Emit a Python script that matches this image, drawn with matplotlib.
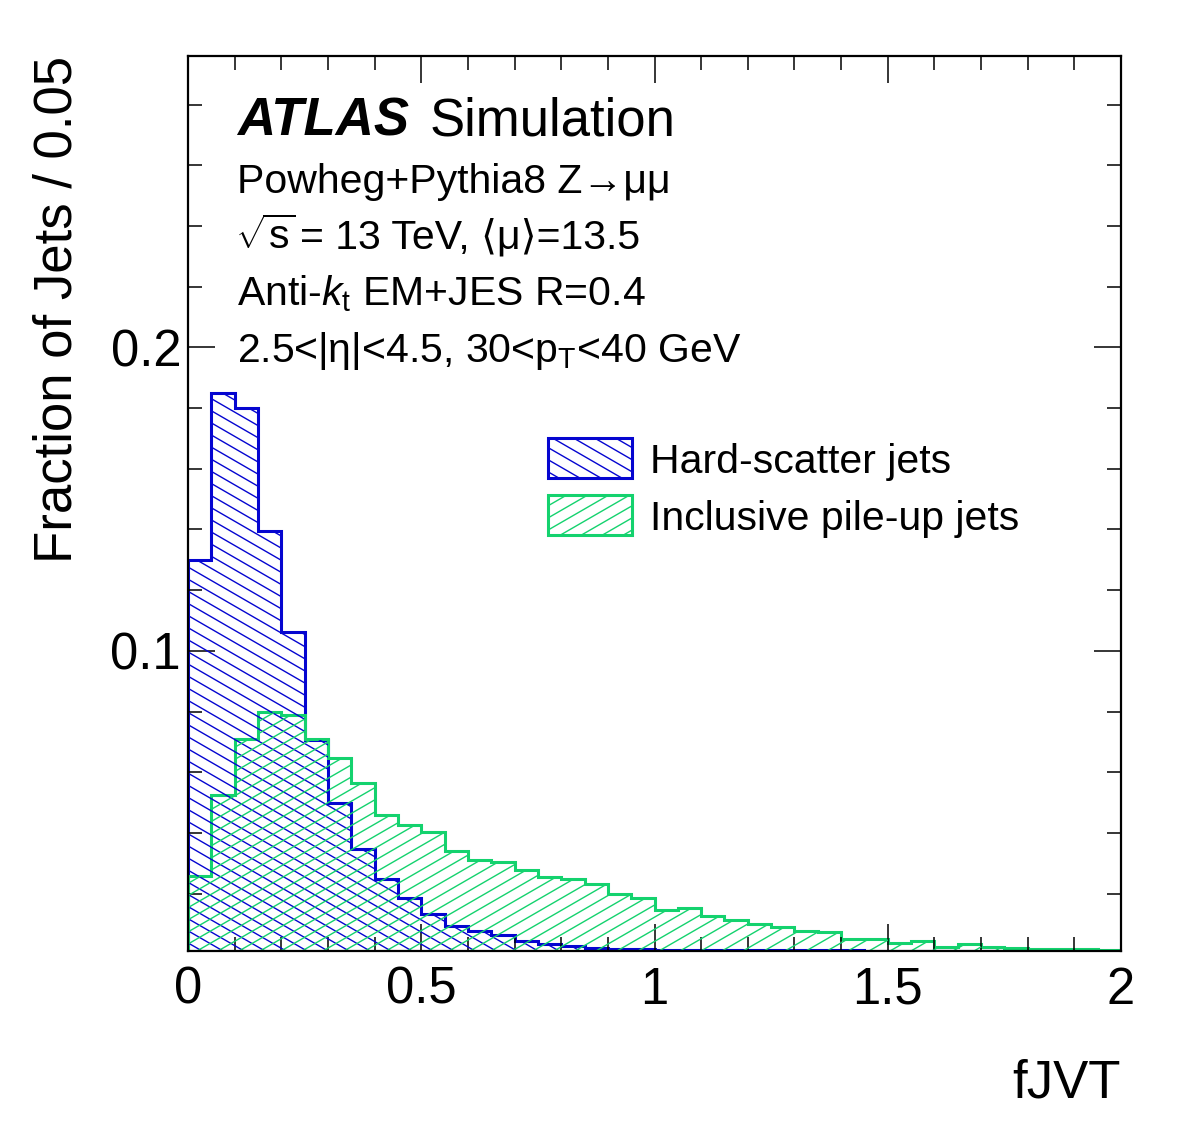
import numpy as np
import matplotlib
matplotlib.use("Agg")
import matplotlib.pyplot as plt
from matplotlib.collections import LineCollection
from matplotlib.patches import Rectangle

# ---------------- data ----------------
bin_edges = np.linspace(0.0, 2.0, 41)
hard_scatter = [0.1300, 0.1850, 0.1800, 0.1396, 0.1063, 0.0706, 0.0498, 0.0347,
                0.0248, 0.0185, 0.0132, 0.0093, 0.0078, 0.0063, 0.0044, 0.0033,
                0.0027, 0.0022, 0.0018, 0.0016, 0.0015, 0.0015, 0.0014, 0.0014,
                0.0013, 0.0013, 0.0013, 0.0013, 0.0013, 0.0012, 0.0012, 0.0012,
                0.0012, 0.0012, 0.0012, 0.0012, 0.0012, 0.0012, 0.0012, 0.0012]
pileup = [0.0257, 0.0525, 0.0709, 0.0797, 0.0790, 0.0710, 0.0648, 0.0565,
          0.0460, 0.0426, 0.0404, 0.0340, 0.0312, 0.0305, 0.0277, 0.0255,
          0.0248, 0.0233, 0.0198, 0.0187, 0.0147, 0.0154, 0.0125, 0.0112,
          0.0099, 0.0090, 0.0076, 0.0075, 0.0050, 0.0050, 0.0039, 0.0043,
          0.0024, 0.0033, 0.0024, 0.0020, 0.0018, 0.0016, 0.0017, 0.0015]
series_labels = ["Hard-scatter jets", "Inclusive pile-up jets"]
x_ticks = [0, 0.5, 1, 1.5, 2]
x_ticklabels = ["0", "0.5", "1", "1.5", "2"]
y_ticks = [0.1, 0.2]
y_ticklabels = ["0.1", "0.2"]

BLUE = "#0505d0"
GREEN = "#14d26e"

plt.rcParams["font.family"] = ["Liberation Sans", "DejaVu Sans"]
plt.rcParams["mathtext.fontset"] = "custom"
plt.rcParams["mathtext.rm"] = "Liberation Sans"
plt.rcParams["mathtext.it"] = "Liberation Sans:italic"
plt.rcParams["mathtext.bf"] = "Liberation Sans:bold"

W, H = 1182, 1134
fig = plt.figure(figsize=(W / 100, H / 100), dpi=100)
ax = fig.add_axes([188 / W, (H - 951) / H, 933 / W, 895 / H])

ax.set_xlim(0, 2)
ax.set_ylim(0.0011, 1.6 * max(hard_scatter))


def add_hatch(clip_patch, sign, color, spacing_px=10.5, angle=30.0, lw=1.0):
    t = np.tan(np.radians(angle))
    v = spacing_px / np.cos(np.radians(angle))
    cs = np.arange(-t * W - v, H + t * W + v, v)
    segs = [[(0.0, c / H), (1.0, (sign * t * W + c) / H)] for c in cs]
    lc = LineCollection(segs, transform=fig.transFigure, colors=color,
                        linewidths=lw)
    ax.add_collection(lc, autolim=False)
    lc.set_clip_path(clip_patch)
    return lc


# hatched fills
hs_fill = ax.stairs(hard_scatter, bin_edges, fill=True, facecolor="none",
                    edgecolor="none", baseline=0.0011)
add_hatch(hs_fill, -1, BLUE)
pu_fill = ax.stairs(pileup, bin_edges, fill=True, facecolor="none",
                    edgecolor="none", baseline=0.0011)
add_hatch(pu_fill, +1, GREEN)

# outlines
ax.stairs(hard_scatter, bin_edges, fill=False, color=BLUE, lw=2.2, baseline=0)
ax.stairs(pileup, bin_edges, fill=False, color=GREEN, lw=2.2, baseline=0)

# axes styling
for sp in ax.spines.values():
    sp.set_linewidth(1.6)
    sp.set_zorder(5)
ax.set_xticks(x_ticks)
ax.set_xticklabels(x_ticklabels)
ax.set_yticks(y_ticks)
ax.set_yticklabels(y_ticklabels)
ax.set_xticks(np.arange(0, 2.001, 0.1), minor=True)
ax.set_yticks(np.arange(0.02, 0.2961, 0.02), minor=True)
ax.tick_params(which="both", direction="in", top=True, right=True, width=1.1)
ax.tick_params(which="major", length=19.5, labelsize=36.5)
ax.tick_params(axis="x", which="major", pad=10.5)
ax.tick_params(axis="y", which="major", pad=5)
ax.tick_params(which="minor", length=10)

ax.text(1.0, -0.1642, "fJVT", transform=ax.transAxes, ha="right",
        va="baseline", fontsize=38)
ax.text(-0.1399, 1.0, "Fraction of Jets / 0.05", transform=ax.transAxes,
        rotation=90, ha="center", va="top", fontsize=38)


def axx(px):
    return (px - 188) / 933


def axy(py):
    return (951 - py) / 895


# ATLAS label and info
ax.text(axx(237), axy(135), "ATLAS", transform=ax.transAxes, fontsize=38,
        fontweight="bold", fontstyle="italic", va="baseline")
ax.text(axx(430), axy(135), "Simulation", transform=ax.transAxes,
        fontsize=38, va="baseline")
ax.text(axx(237), axy(193), "Powheg+Pythia8 Z\u2192\u03bc\u03bc",
        transform=ax.transAxes, fontsize=29.5, va="baseline")
ax.text(axx(235), axy(249), r"$\sqrt{\mathrm{s}}$", transform=ax.transAxes,
        fontsize=29.5, va="baseline")
ax.text(axx(300), axy(249), "= 13 TeV, \u27e8\u03bc\u27e9=13.5",
        transform=ax.transAxes, fontsize=29.5, va="baseline")
ax.text(axx(237), axy(305), r"Anti-$k_{\mathrm{t}}$ EM+JES R=0.4",
        transform=ax.transAxes, fontsize=29.5, va="baseline")
ax.text(axx(237), axy(362),
        r"2.5<|$\mathrm{\eta}$|<4.5, 30<$\mathrm{p}_{\mathrm{T}}$<40 GeV",
        transform=ax.transAxes, fontsize=29.5, va="baseline")

# legend (manual)
for (y0, y1, col, sign, lab, yb) in [
        (438, 478, BLUE, -1, series_labels[0], 473),
        (495, 535, GREEN, +1, series_labels[1], 530)]:
    r = Rectangle((axx(548), axy(y1)), axx(632) - axx(548), axy(y0) - axy(y1),
                  transform=ax.transAxes, facecolor="none", edgecolor=col,
                  lw=2.2, zorder=3)
    ax.add_patch(r)
    add_hatch(r, sign, col)
    ax.text(axx(650), axy(yb), lab, transform=ax.transAxes, fontsize=29.5,
            va="baseline")

fig.savefig("out.png", dpi=100)
